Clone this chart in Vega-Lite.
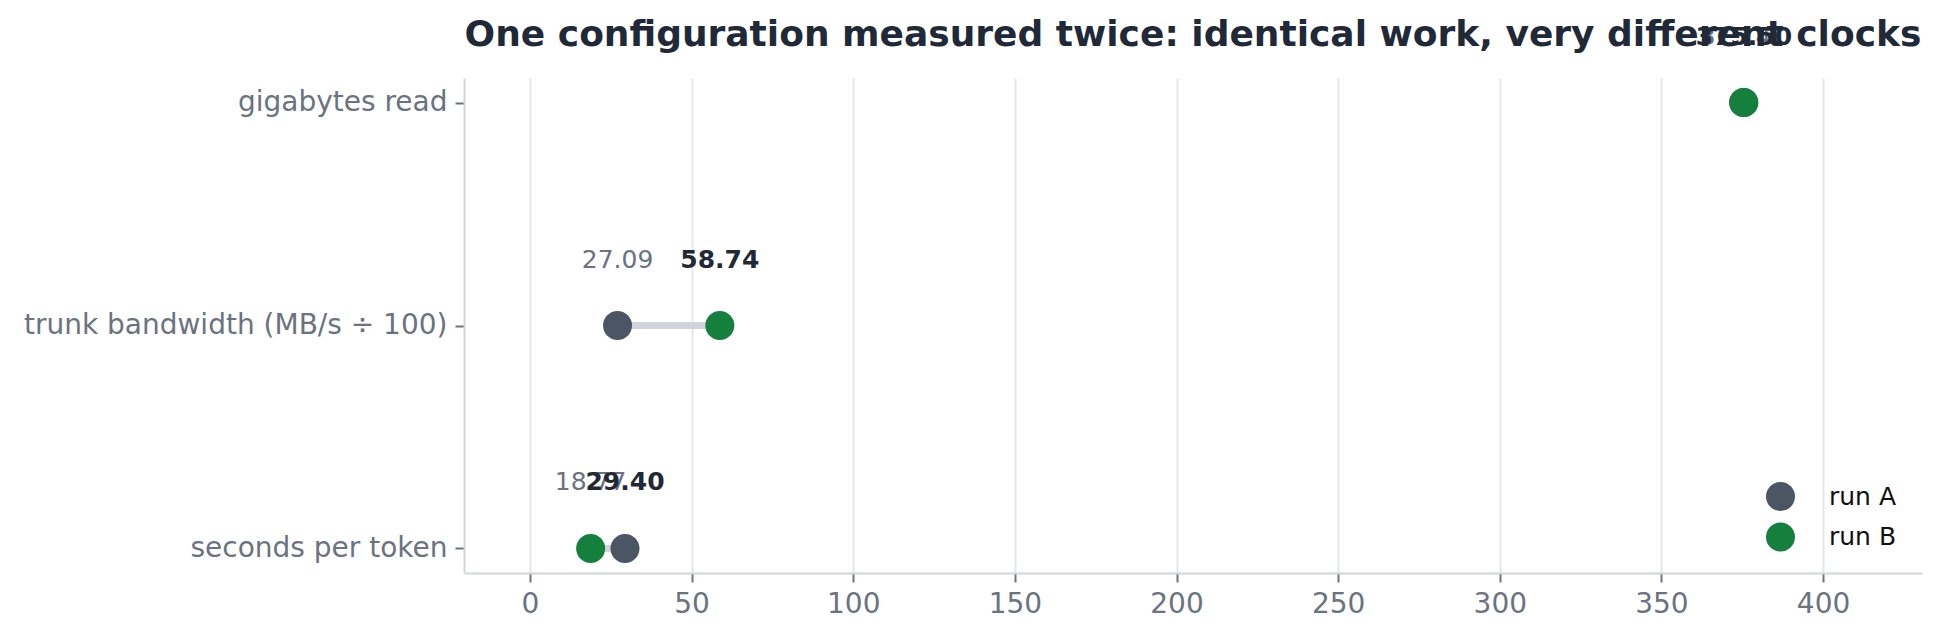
{
  "$schema": "https://vega.github.io/schema/vega-lite/v6.json",
  "autosize": {"type": "none"},
  "width": 1458,
  "height": 495,
  "padding": {"left": 464, "top": 78, "right": 20, "bottom": 67},
  "background": "white",
  "title": {
    "text": "One configuration measured twice: identical work, very different clocks",
    "font": "DejaVu Sans",
    "fontSize": 36,
    "fontWeight": "bold",
    "color": "#1f2937",
    "anchor": "middle",
    "frame": "group",
    "offset": 28,
    "dy": 57
  },
  "data": {
    "values": [
      {"metric": "gigabytes read", "run": "run A", "value": 375.41},
      {"metric": "gigabytes read", "run": "run B", "value": 375.50},
      {"metric": "trunk bandwidth (MB/s ÷ 100)", "run": "run A", "value": 27.09},
      {"metric": "trunk bandwidth (MB/s ÷ 100)", "run": "run B", "value": 58.74},
      {"metric": "seconds per token", "run": "run A", "value": 29.40},
      {"metric": "seconds per token", "run": "run B", "value": 18.77}
    ]
  },
  "encoding": {
    "y": {
      "field": "metric",
      "type": "nominal",
      "sort": ["gigabytes read", "trunk bandwidth (MB/s ÷ 100)", "seconds per token"],
      "scale": {"type": "point", "padding": 0.11},
      "axis": {"title": null, "grid": false, "labelFontSize": 28, "labelPadding": 8, "tickSize": 9, "labelLimit": 0}
    }
  },
  "layer": [
    {
      "transform": [
        {"aggregate": [{"op": "min", "field": "value", "as": "lo"}, {"op": "max", "field": "value", "as": "hi"}], "groupby": ["metric"]}
      ],
      "mark": {"type": "rule", "strokeWidth": 7, "color": "#d1d5db"},
      "encoding": {
        "x": {"field": "lo", "type": "quantitative", "scale": {"domain": [-20.4, 430.6], "nice": false, "zero": false}},
        "x2": {"field": "hi"}
      }
    },
    {
      "mark": {"type": "circle", "size": 840, "opacity": 1},
      "encoding": {
        "x": {
          "field": "value",
          "type": "quantitative",
          "scale": {"domain": [-20.4, 430.6], "nice": false, "zero": false},
          "axis": {"title": null, "values": [0, 50, 100, 150, 200, 250, 300, 350, 400], "labelFontSize": 28, "labelPadding": 8, "tickSize": 9, "grid": true}
        },
        "color": {
          "field": "run",
          "type": "nominal",
          "scale": {"domain": ["run A", "run B"], "range": ["#4b5563", "#15803d"]},
          "legend": {
            "title": null,
            "orient": "none",
            "legendX": 1301,
            "legendY": 403,
            "padding": 0,
            "symbolType": "circle",
            "symbolSize": 840,
            "symbolOpacity": 1,
            "labelFontSize": 25,
            "labelColor": "#111111",
            "labelOffset": 33,
            "rowPadding": 10.5
          }
        }
      }
    },
    {
      "transform": [
        {"joinaggregate": [{"op": "max", "field": "value", "as": "rowmax"}], "groupby": ["metric"]},
        {"filter": "datum.value < datum.rowmax"}
      ],
      "mark": {"type": "text", "dy": -66, "fontSize": 25, "font": "DejaVu Sans", "color": "#6b7280"},
      "encoding": {
        "x": {"field": "value", "type": "quantitative"},
        "text": {"field": "value", "type": "quantitative", "format": ".2f"}
      }
    },
    {
      "transform": [
        {"joinaggregate": [{"op": "max", "field": "value", "as": "rowmax"}], "groupby": ["metric"]},
        {"filter": "datum.value === datum.rowmax"}
      ],
      "mark": {"type": "text", "dy": -66, "fontSize": 25, "font": "DejaVu Sans", "fontWeight": "bold", "color": "#1f2937"},
      "encoding": {
        "x": {"field": "value", "type": "quantitative"},
        "text": {"field": "value", "type": "quantitative", "format": ".2f"}
      }
    }
  ],
  "config": {
    "font": "DejaVu Sans",
    "view": {"stroke": null},
    "axis": {
      "labelFont": "DejaVu Sans",
      "labelColor": "#6b7280",
      "tickColor": "#6b7280",
      "tickWidth": 2,
      "domainColor": "#d1d5db",
      "domainWidth": 2,
      "gridColor": "#e5e7eb",
      "gridWidth": 2
    },
    "legend": {"labelFont": "DejaVu Sans"}
  }
}
